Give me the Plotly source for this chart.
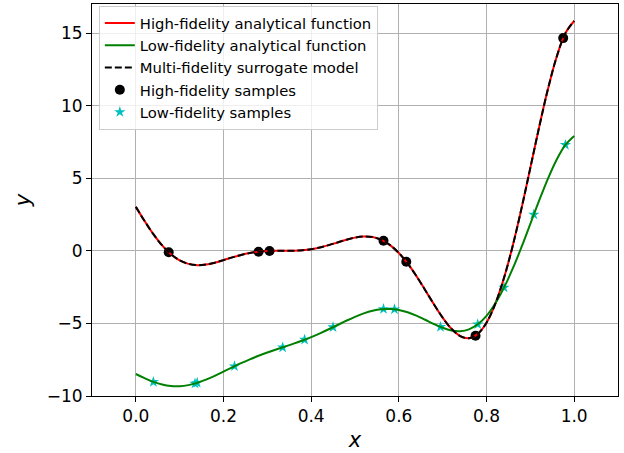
import plotly.graph_objects as go

# Curve samples on a uniform grid in x
x_grid = [0.00, 0.02, 0.04, 0.06, 0.08, 0.10, 0.12, 0.14, 0.16, 0.18,
          0.20, 0.22, 0.24, 0.26, 0.28, 0.30, 0.32, 0.34, 0.36, 0.38,
          0.40, 0.42, 0.44, 0.46, 0.48, 0.50, 0.52, 0.54, 0.56, 0.58,
          0.60, 0.62, 0.64, 0.66, 0.68, 0.70, 0.72, 0.74, 0.76, 0.78,
          0.80, 0.82, 0.84, 0.86, 0.88, 0.90, 0.92, 0.94, 0.96, 0.98, 1.00]

high_y = [3.027, 2.049, 1.144, 0.371, -0.234, -0.657, -0.900, -0.986, -0.944, -0.816,
          -0.640, -0.452, -0.282, -0.149, -0.061, -0.016, -0.001, 0.000, 0.008, 0.042,
          0.115, 0.233, 0.392, 0.577, 0.761, 0.909, 0.984, 0.945, 0.756, 0.394,
          -0.150, -0.872, -1.736, -2.697, -3.682, -4.606, -5.369, -5.870, -6.016, -5.722,
          -4.949, -3.651, -1.861, 0.367, 2.940, 5.712, 8.506, 11.122, 13.353, 14.990, 15.830]

low_y = [-8.486, -8.775, -9.028, -9.214, -9.317, -9.329, -9.250, -9.093, -8.872, -8.608,
         -8.320, -8.026, -7.741, -7.475, -7.231, -7.008, -6.800, -6.600, -6.396, -6.179,
         -5.942, -5.683, -5.404, -5.111, -4.819, -4.545, -4.308, -4.127, -4.022, -4.003,
         -4.075, -4.236, -4.468, -4.749, -5.041, -5.303, -5.485, -5.535, -5.408, -5.061,
         -4.475, -3.626, -2.531, -1.216, 0.270, 1.856, 3.453, 4.961, 6.277, 7.295, 7.915]

# The surrogate coincides with the high-fidelity curve
surrogate_y = [3.027, 2.049, 1.144, 0.371, -0.234, -0.657, -0.900, -0.986, -0.944, -0.816,
               -0.640, -0.452, -0.282, -0.149, -0.061, -0.016, -0.001, 0.000, 0.008, 0.042,
               0.115, 0.233, 0.392, 0.577, 0.761, 0.909, 0.984, 0.945, 0.756, 0.394,
               -0.150, -0.872, -1.736, -2.697, -3.682, -4.606, -5.369, -5.870, -6.016, -5.722,
               -4.949, -3.651, -1.861, 0.367, 2.940, 5.712, 8.506, 11.122, 13.353, 14.990, 15.830]

# Sample points
hf_x = [0.075, 0.28, 0.305, 0.565, 0.617, 0.775, 0.975]
hf_y = [-0.10, -0.06, -0.01, 0.69, -0.75, -5.85, 14.65]

lf_x = [0.04, 0.135, 0.14, 0.225, 0.335, 0.385, 0.45, 0.565, 0.59, 0.695, 0.78, 0.84, 0.908, 0.98]
lf_y = [-9.03, -9.14, -9.09, -7.95, -6.65, -6.12, -5.26, -4.01, -4.03, -5.24, -5.06, -2.53, 2.50, 7.30]

x_ticks = [0.0, 0.2, 0.4, 0.6, 0.8, 1.0]
y_ticks = [-10, -5, 0, 5, 10, 15]

FONT = "DejaVu Sans"

fig = go.Figure()

fig.add_trace(go.Scatter(x=hf_x, y=hf_y, mode="markers", name="High-fidelity samples",
                         marker=dict(symbol="circle", size=10, color="black"), legendrank=4))
fig.add_trace(go.Scatter(x=lf_x, y=lf_y, mode="markers", name="Low-fidelity samples",
                         marker=dict(symbol="star", size=8.5, color="#00bfbf"), legendrank=5))
fig.add_trace(go.Scatter(x=x_grid, y=high_y, mode="lines", name="High-fidelity analytical function",
                         line=dict(color="red", width=2, shape="spline"), legendrank=1))
fig.add_trace(go.Scatter(x=x_grid, y=low_y, mode="lines", name="Low-fidelity analytical function",
                         line=dict(color="green", width=2, shape="spline"), legendrank=2))
fig.add_trace(go.Scatter(x=x_grid, y=surrogate_y, mode="lines", name="Multi-fidelity surrogate model",
                         line=dict(color="black", width=2, dash="7px,3px", shape="spline"), legendrank=3))

axis_common = dict(
    showline=True, linecolor="black", linewidth=1, mirror=True,
    showgrid=True, gridcolor="#b0b0b0", gridwidth=1,
    ticks="outside", ticklen=5, tickwidth=1, tickcolor="black",
    tickfont=dict(family=FONT, size=17, color="black"),
    zeroline=False,
)

fig.update_xaxes(range=[-0.1, 1.1], tickvals=x_ticks, ticktext=[f"{v:.1f}" for v in x_ticks],
                 title=dict(text="<i>x</i>", font=dict(family=FONT, size=21, color="black"), standoff=6),
                 **axis_common)
fig.update_yaxes(range=[-10, 17], tickvals=y_ticks, ticktext=[str(v).replace("-", "\u2212") for v in y_ticks],
                 title=dict(text="<i>y</i>", font=dict(family=FONT, size=21, color="black"), standoff=10),
                 **axis_common)

fig.update_layout(
    width=624, height=453,
    margin=dict(l=92, r=6, t=4, b=57),
    plot_bgcolor="white", paper_bgcolor="white",
    font=dict(family=FONT, color="black"),
    legend=dict(x=0.013, y=0.995, xanchor="left", yanchor="top",
                bgcolor="rgba(255,255,255,0.8)", bordercolor="#cccccc", borderwidth=1,
                font=dict(family=FONT, size=14.8, color="black"), itemwidth=30,
                tracegroupgap=0),
    showlegend=True,
)

fig.write_html("out.html")
